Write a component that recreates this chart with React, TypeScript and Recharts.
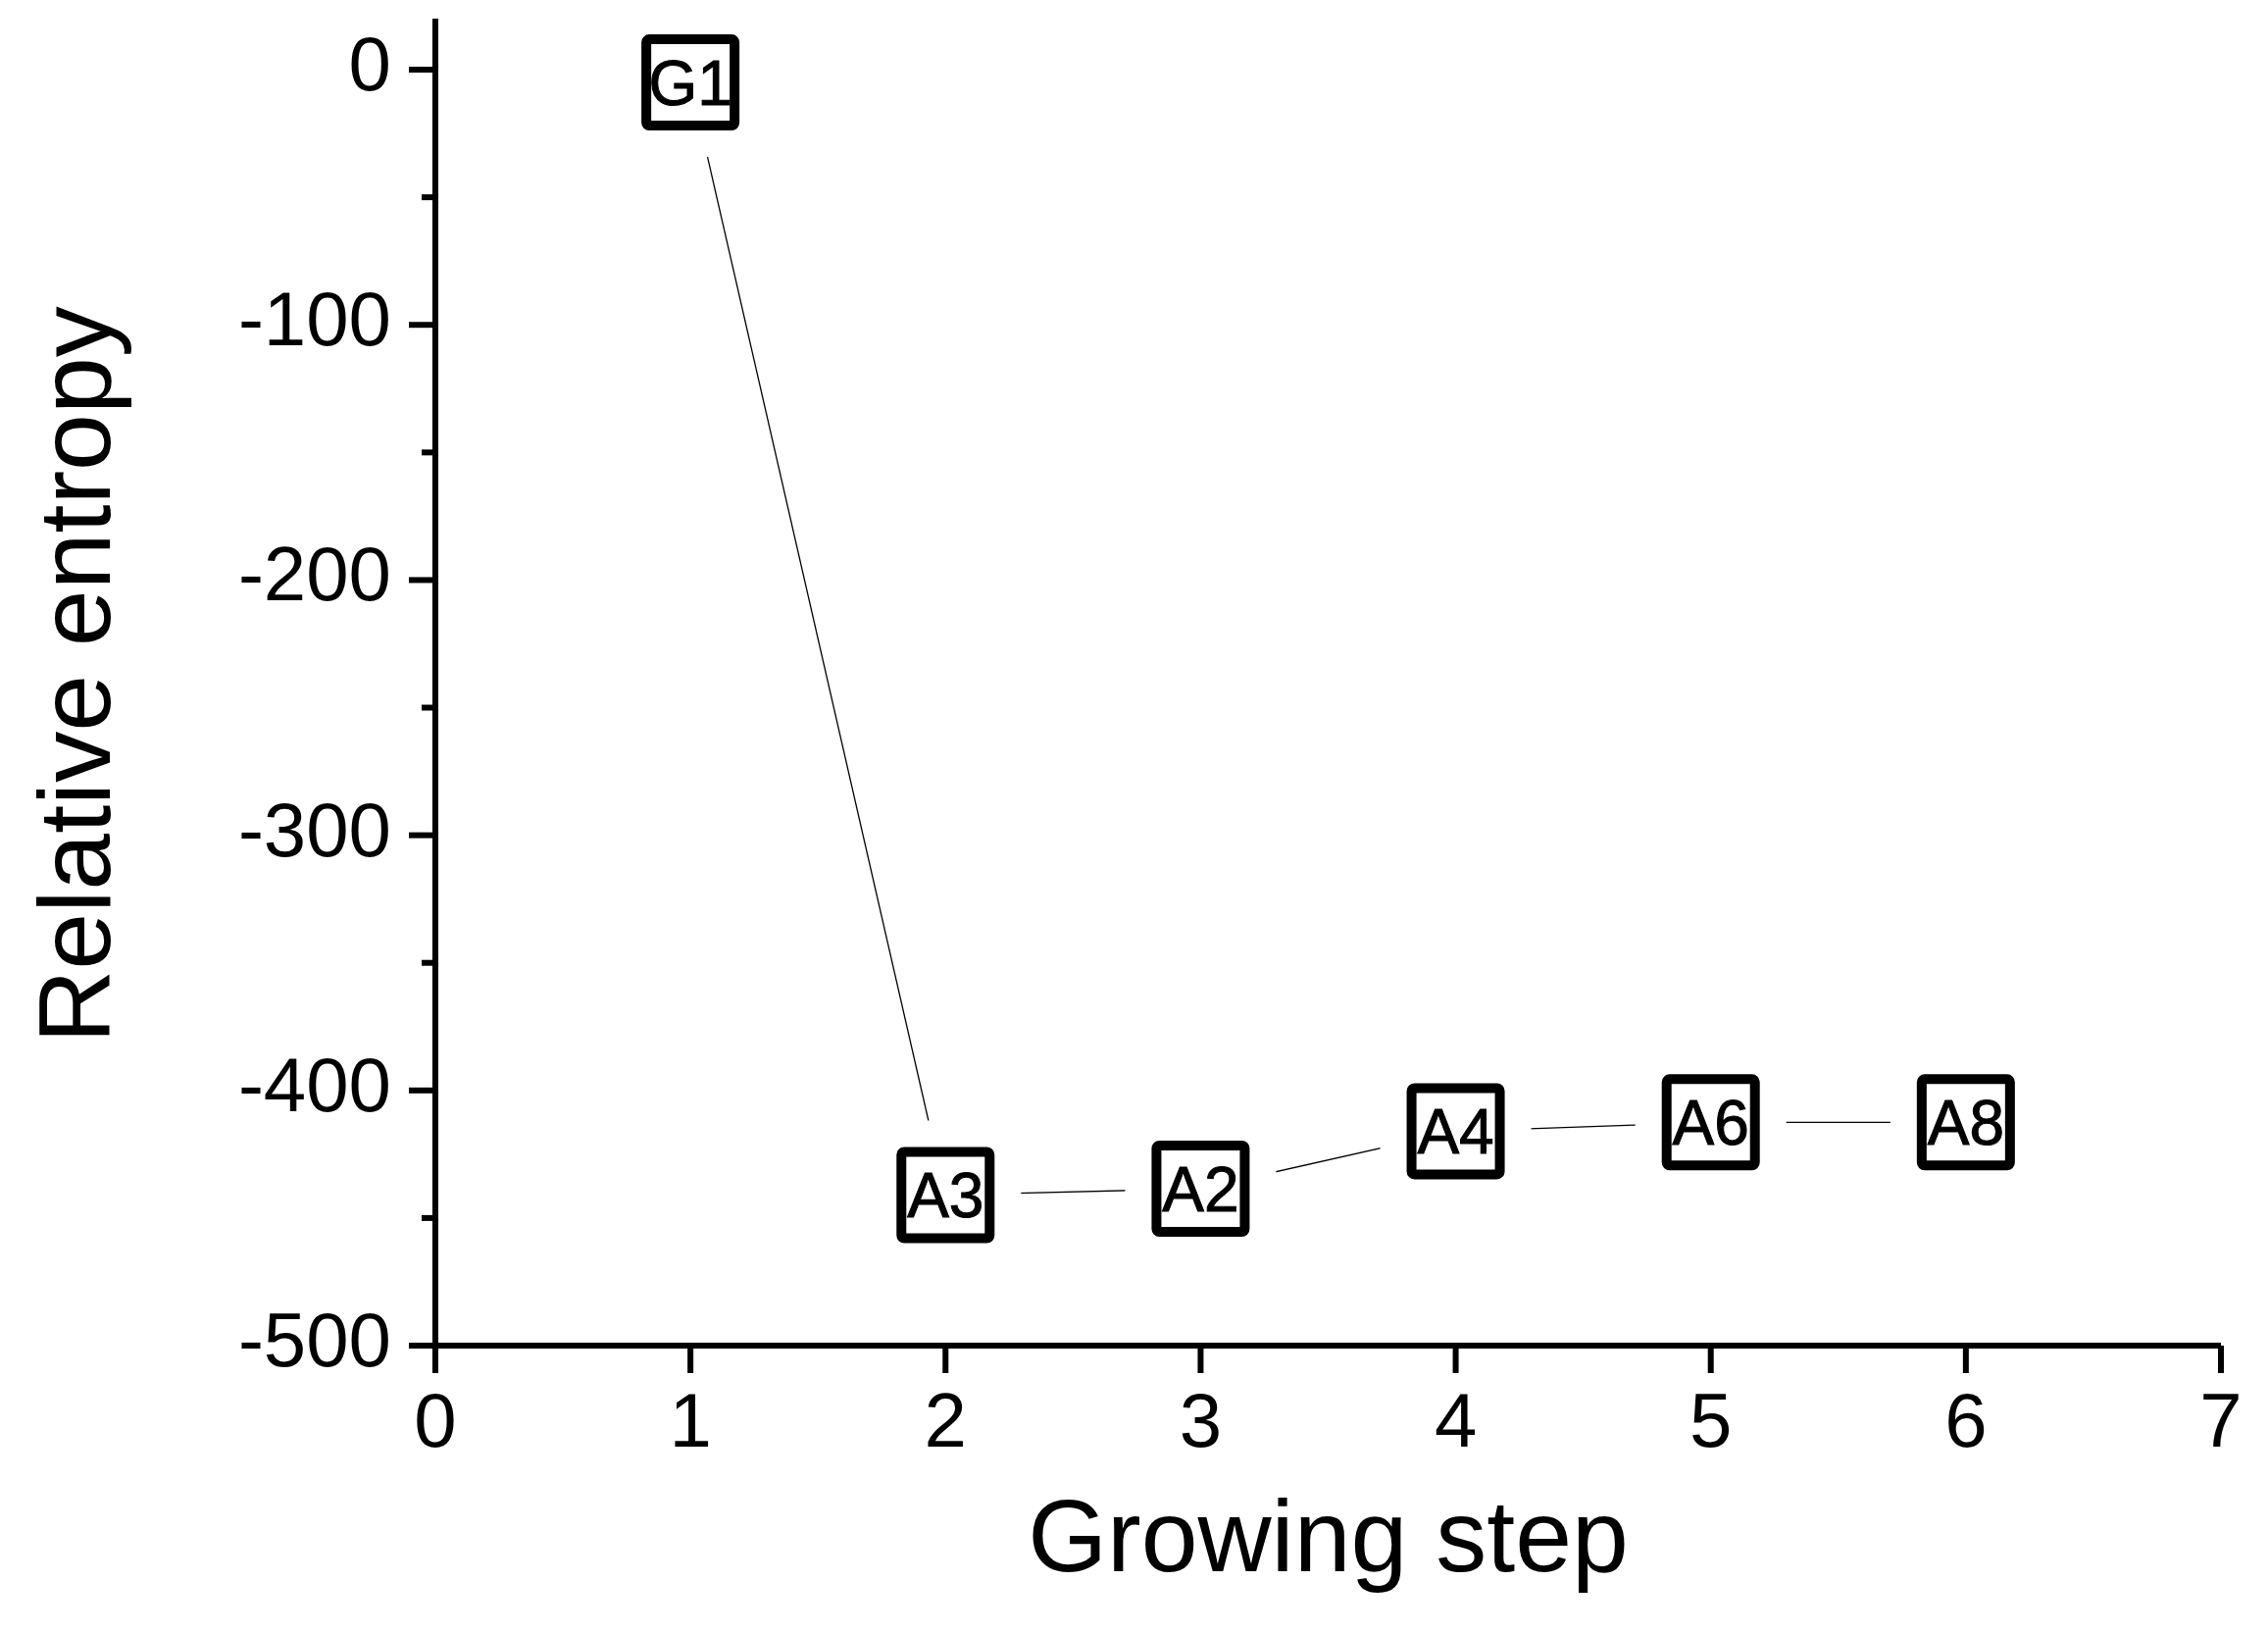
import { Line, LineChart, XAxis, YAxis, Label } from "recharts";

// growing step (x), labelled structure, relative entropy (y)
const steps = [1, 2, 3, 4, 5, 6];
const stepLabels = ["G1", "A3", "A2", "A4", "A6", "A8"];
const entropy = [-5, -441, -438.5, -416, -412.5, -412.5];

const xTicks = [0, 1, 2, 3, 4, 5, 6, 7];
const yTicks = [-500, -450, -400, -350, -300, -250, -200, -150, -100, -50, 0];
const yMajor = [-500, -400, -300, -200, -100, 0];

const data = steps.map((s, i) => ({ step: s, label: stepLabels[i], value: entropy[i] }));

const FONT = "'Liberation Sans', Arial, sans-serif";
const AXIS_W = 6;

const XTick = ({ x, y, payload }: any) => (
  <g>
    <line x1={x} y1={y} x2={x} y2={y + 28} stroke="#000" strokeWidth={AXIS_W} />
    <text x={x} y={y + 103} textAnchor="middle" fontSize={78} fontFamily={FONT} fill="#000">
      {payload.value}
    </text>
  </g>
);

const YTick = ({ x, y, payload }: any) => {
  const major = yMajor.includes(payload.value);
  return (
    <g>
      <line x1={x - (major ? 27 : 14)} y1={y} x2={x} y2={y} stroke="#000" strokeWidth={AXIS_W} />
      {major && (
        <text x={x - 45} y={y + 21} textAnchor="end" fontSize={78} fontFamily={FONT} fill="#000">
          {payload.value}
        </text>
      )}
    </g>
  );
};

// boxed label marker; the white pad leaves a gap in the connecting line
const BoxDot = ({ cx, cy, index, payload }: any) => (
  <g key={`dot-${index}`}>
    <rect x={cx - 77} y={cy - 76} width={154} height={152} fill="#fff" />
    <rect
      x={cx - 45}
      y={cy - 44}
      width={90}
      height={88}
      rx={3}
      fill="#fff"
      stroke="#000"
      strokeWidth={10}
    />
    <text
      x={cx}
      y={cy + 23}
      textAnchor="middle"
      fontSize={64}
      fontFamily={FONT}
      fill="#000"
      stroke="#000"
      strokeWidth={1}
    >
      {payload.label}
    </text>
  </g>
);

export default function App() {
  return (
    <div style={{ width: 2297, height: 1648, background: "#fff" }}>
      <LineChart
        width={2297}
        height={1648}
        data={data}
        margin={{ top: 11, right: 40, bottom: 0, left: 0 }}
      >
        <XAxis
          type="number"
          dataKey="step"
          domain={[0, 7]}
          ticks={xTicks}
          tickSize={0}
          tickMargin={0}
          height={284}
          axisLine={{ stroke: "#000", strokeWidth: AXIS_W }}
          tickLine={false}
          tick={<XTick />}
          interval={0}
        >
          <Label
            content={({ viewBox }: any) => (
              <text
                x={viewBox.x + viewBox.width / 2}
                y={viewBox.y + 230}
                textAnchor="middle"
                fontSize={104}
                fontFamily={FONT}
                fill="#000"
              >
                Growing step
              </text>
            )}
          />
        </XAxis>
        <YAxis
          type="number"
          domain={[-500, 20]}
          ticks={yTicks}
          tickSize={0}
          tickMargin={0}
          width={436}
          axisLine={{ stroke: "#000", strokeWidth: AXIS_W }}
          tickLine={false}
          tick={<YTick />}
          interval={0}
        >
          <Label
            content={() => (
              <text
                x={104}
                y={680}
                transform={`rotate(-90, 104, 680)`}
                textAnchor="middle"
                fontSize={104}
                fontFamily={FONT}
                fill="#000"
              >
                Relative entropy
              </text>
            )}
          />
        </YAxis>
        <Line
          type="linear"
          dataKey="value"
          stroke="#000"
          strokeWidth={1.3}
          dot={(p: any) => <BoxDot key={`d-${p.index}`} {...p} />}
          activeDot={false}
          isAnimationActive={false}
        />
      </LineChart>
    </div>
  );
}
